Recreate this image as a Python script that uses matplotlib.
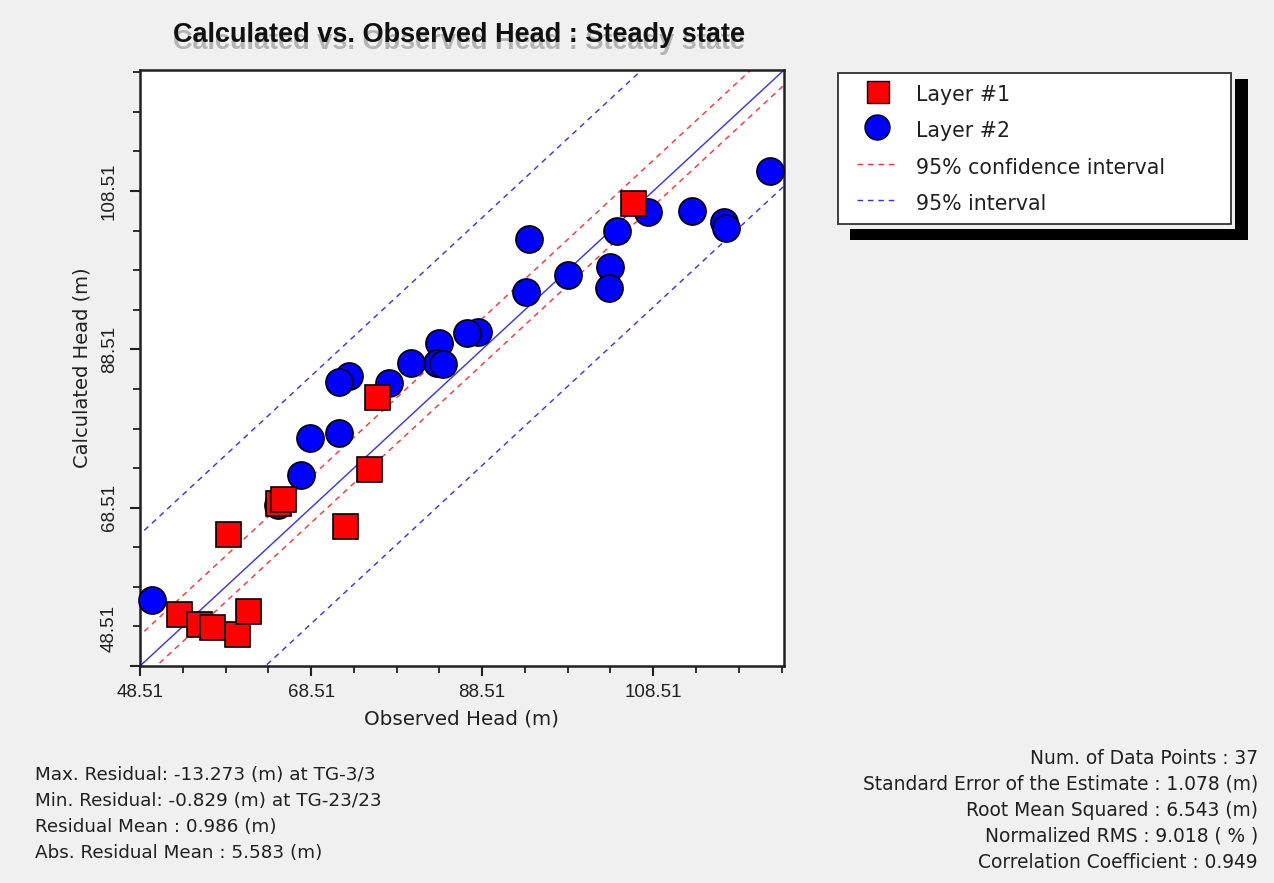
import matplotlib
matplotlib.use('Agg')
import matplotlib.pyplot as plt
import matplotlib.transforms as mtransforms
from matplotlib.patches import Rectangle
from matplotlib.ticker import FixedLocator
import numpy as np

W, H, DPI = 1274, 883, 100
BG = '#f0f0f0'

# ---------------- data ----------------
layer1_obs = [53.07, 55.40, 56.92, 59.84, 61.13, 58.79, 64.63, 65.22, 72.46, 75.26, 76.20, 106.10]
layer1_calc = [55.09, 53.82, 53.44, 52.56, 55.47, 65.20, 69.12, 69.63, 66.22, 73.42, 82.53, 106.94]

layer2_obs = [49.91, 122.22, 93.95, 107.86, 113.00, 116.73, 116.97, 104.23, 103.42, 103.30,
              98.51, 93.60, 88.00, 86.71, 83.44, 83.21, 83.91, 80.17, 77.60, 72.93,
              71.76, 71.76, 68.37, 67.32, 64.63]
layer2_calc = [56.86, 110.99, 102.39, 105.80, 106.05, 104.66, 103.78, 103.52, 98.97, 96.32,
               97.96, 95.81, 90.75, 90.62, 89.36, 86.83, 86.70, 86.83, 84.30, 85.19,
               84.43, 77.98, 77.35, 72.67, 68.87]

axis_min = 48.51
axis_max = 123.8
major_ticks = [48.51, 68.51, 88.51, 108.51]
minor_ticks = [53.51, 58.51, 63.51, 73.51, 78.51, 83.51, 93.51, 98.51, 103.51,
               113.51, 118.51, 123.51]
tick_labels = ['48.51', '68.51', '88.51', '108.51']

residual_mean = 0.986
conf_half_width = 2.9
interval_half_width = 15.65

title = 'Calculated vs. Observed Head : Steady state'
xlabel = 'Observed Head (m)'
ylabel = 'Calculated Head (m)'
legend_labels = ['Layer #1', 'Layer #2', '95% confidence interval', '95% interval']

left_stats = ['Max. Residual: -13.273 (m) at TG-3/3',
              'Min. Residual: -0.829 (m) at TG-23/23',
              'Residual Mean : 0.986 (m)',
              'Abs. Residual Mean : 5.583 (m)']
right_stats = ['Num. of Data Points : 37',
               'Standard Error of the Estimate : 1.078 (m)',
               'Root Mean Squared : 6.543 (m)',
               'Normalized RMS : 9.018 ( % )',
               'Correlation Coefficient : 0.949']

# ---------------- figure ----------------
fig = plt.figure(figsize=(W / DPI, H / DPI), dpi=DPI, facecolor=BG)

def fx(px):
    return px / W

def fy(py):
    return 1 - py / H

ax_l, ax_r, ax_t, ax_b = 140, 784, 70, 666
ax = fig.add_axes([fx(ax_l), fy(ax_b), (ax_r - ax_l) / W, (ax_b - ax_t) / H])
ax.set_facecolor('white')
ax.set_xlim(axis_min, axis_max)
ax.set_ylim(axis_min, axis_max)

# reference lines
xl = np.array([axis_min - 30, axis_max + 30])
ax.plot(xl, xl, color='#3030ff', lw=1.0, zorder=2)
for s in (1, -1):
    ax.plot(xl, xl + residual_mean + s * conf_half_width, color='#ff3030', lw=1.0,
            dashes=(4, 3.5), zorder=2)
    ax.plot(xl, xl + residual_mean + s * interval_half_width, color='#3030ff', lw=1.0,
            dashes=(4, 3.5), zorder=2)

# points
ax.plot(layer2_obs, layer2_calc, 'o', ms=19.5, mfc='#0000ff', mec='black', mew=1.2,
        ls='none', zorder=3, clip_on=False)
ax.plot(layer1_obs, layer1_calc, 's', ms=18, mfc='#ff0000', mec='black', mew=1.2,
        ls='none', zorder=4, clip_on=False)

# axes styling
for sp in ax.spines.values():
    sp.set_linewidth(1.8)
    sp.set_color('#202020')
ax.xaxis.set_major_locator(FixedLocator(major_ticks))
ax.yaxis.set_major_locator(FixedLocator(major_ticks))
ax.xaxis.set_minor_locator(FixedLocator(minor_ticks))
ax.yaxis.set_minor_locator(FixedLocator(minor_ticks))
ax.set_xticklabels(tick_labels)
ax.set_yticklabels(tick_labels, rotation=90, va='center')
ax.tick_params(which='major', direction='out', length=7, width=1.5, color='#202020',
               labelsize=13.5, pad=6)
ax.tick_params(which='minor', direction='out', length=5, width=1.3, color='#202020')
for lab in ax.get_xticklabels() + ax.get_yticklabels():
    lab.set_family('Liberation Sans')
    lab.set_color('#202020')
ax.tick_params(axis='y', pad=9)
# shift the lowest y label upward as in the reference
first = ax.yaxis.get_major_ticks()[0].label1
first.set_transform(first.get_transform() +
                    mtransforms.ScaledTranslation(0, 38 / DPI, fig.dpi_scale_trans))

ax.set_xlabel(xlabel, fontsize=14.3, family='DejaVu Sans', color='#202020', labelpad=6)
ax.set_ylabel(ylabel, fontsize=14, family='DejaVu Sans', color='#202020', labelpad=7)

# title with ghost shadow
fig.text(fx(459), fy(42), title, ha='center', va='center', fontsize=19.5,
         family='Liberation Sans', fontweight='bold', color='#b4b4b4')
fig.text(fx(459), fy(35), title, ha='center', va='center', fontsize=19.5,
         family='Liberation Sans', fontweight='bold', color='#111111')

# ---------------- legend (drawn as a panel) ----------------
ov = fig.add_axes([0, 0, 1, 1], zorder=10)
ov.set_xlim(0, W)
ov.set_ylim(H, 0)
ov.axis('off')
ov.patch.set_alpha(0)
ov.add_patch(Rectangle((850, 79), 398, 161, facecolor='black', edgecolor='none'))
ov.add_patch(Rectangle((835, 70), 400, 159, facecolor=BG, edgecolor='none'))
ov.add_patch(Rectangle((838, 73), 393, 151, facecolor='white', edgecolor='#303030', lw=1.3))
ov.plot([878], [92], 's', ms=15.5, mfc='#ff0000', mec='black', mew=1.0)
ov.plot([877], [127], 'o', ms=18, mfc='#0000ff', mec='black', mew=1.0)
ov.plot([857, 896], [164, 164], color='#ff3030', lw=1.0, dashes=(4, 3.5))
ov.plot([857, 896], [200, 200], color='#3030ff', lw=1.0, dashes=(4, 3.5))
for i, lab in enumerate(legend_labels):
    ov.text(916, 95 + 36.3 * i, lab, ha='left', va='center', fontsize=14.8,
            family='DejaVu Sans', color='#202020')

# ---------------- statistics text ----------------
for i, s in enumerate(left_stats):
    fig.text(fx(35), fy(775 + 26 * i), s, ha='left', va='center', fontsize=13.2,
             family='DejaVu Sans', color='#202020')
for i, s in enumerate(right_stats):
    fig.text(fx(1258), fy(758 + 26 * i), s, ha='right', va='center', fontsize=13.4,
             family='DejaVu Sans', color='#202020')

fig.savefig('out.png', dpi=DPI, facecolor=BG)
